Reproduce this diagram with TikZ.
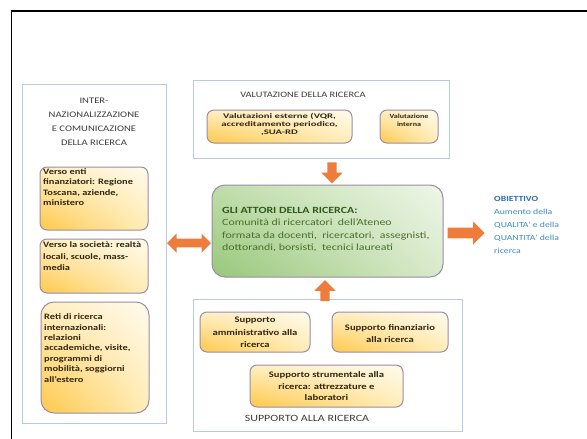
\documentclass[tikz,border=0pt]{standalone}
\usepackage{fontspec}
\setmainfont{Carlito}[FakeStretch=1.25]
\usetikzlibrary{shapes.arrows,shadings}
\definecolor{arrowor}{HTML}{EE7D3B}
\definecolor{boxborder}{HTML}{9C8CA8}
\definecolor{panelborder}{HTML}{B8CBE1}
\definecolor{yUL}{HTML}{FFEFC4}
\definecolor{yUR}{HTML}{FFFAEC}
\definecolor{yLL}{HTML}{FFC84A}
\definecolor{yLR}{HTML}{FFEDB8}
\definecolor{gUL}{HTML}{BFDDAA}
\definecolor{gUR}{HTML}{EEF6E8}
\definecolor{gLL}{HTML}{98C77A}
\definecolor{gLR}{HTML}{D9EACB}
\definecolor{boxtext}{HTML}{33260F}
\definecolor{gtitle}{HTML}{2F5A1C}
\definecolor{gtext}{HTML}{4A6E2C}
\definecolor{otitle}{HTML}{2A6FB0}
\definecolor{otext}{HTML}{3B8BC8}
\definecolor{ptitle}{HTML}{3C3C3C}
\begin{document}
\begin{tikzpicture}[x=1pt,y=-1pt,
  frame/.style={line width=1.6pt, draw=black},
  panel/.style={draw=panelborder, line width=1pt, fill=white, inner sep=0pt},
  ybox/.style={draw=boxborder, line width=1pt, rounded corners=7pt, inner sep=0pt,
    upper left=yUL, upper right=yUR, lower left=yLL, lower right=yLR},
  gbox/.style={draw=boxborder, line width=1pt, rounded corners=13pt, inner sep=0pt,
    upper left=gUL, upper right=gUR, lower left=gLL, lower right=gLR},
  ltext/.style={inner sep=0pt, align=left, anchor=west, text=boxtext,
    font=\fontsize{8.3}{10.4}\selectfont\bfseries},
  ctext/.style={inner sep=0pt, align=center, text=boxtext},
  ptext/.style={inner sep=0pt, align=center, text=ptitle},
  fatarrow/.style={single arrow, fill=arrowor, draw=none, inner sep=4.5pt,
    single arrow head extend=6pt, single arrow head indent=0pt},
  fatdarrow/.style={double arrow, fill=arrowor, draw=none, inner sep=4pt,
    double arrow head extend=5pt, double arrow head indent=0pt}
]
\useasboundingbox (0,0) rectangle (587,439);
\fill[white] (0,0) rectangle (587,439);
\draw[frame] (11.5,440) -- (11.5,11) -- (588,11);

% panels
\node[panel, minimum width=144pt, minimum height=339pt] (pleft) at (94,253.5) {};
\node[panel, minimum width=256pt, minimum height=78pt] (ptop) at (321,119) {};
\node[panel, minimum width=269pt, minimum height=132pt] (pbot) at (327.5,365) {};

% panel titles
\node[ptext, font=\fontsize{8.5}{14}\selectfont] (tleft) at (94,122)
  {INTER-\\NAZIONALIZZAZIONE\\E COMUNICAZIONE\\DELLA RICERCA};
\node[ptext, font=\fontsize{8.3}{10}\selectfont] (ttop) at (303,95) {VALUTAZIONE DELLA RICERCA};
\node[ptext, font=\fontsize{9.6}{11}\selectfont] (tbot) at (307,418) {SUPPORTO ALLA RICERCA};

% left boxes
\node[ybox, minimum width=108pt, minimum height=63pt] (l1) at (94,198.5) {};
\node[ybox, minimum width=108pt, minimum height=54pt] (l2) at (94,266) {};
\node[ybox, rounded corners=13pt, minimum width=108pt, minimum height=111pt] (l3) at (95,357.5) {};
\node[ltext] (l1t) at (43,187) {Verso enti\\finanziatori: Regione\\Toscana, aziende,\\ministero};
\node[ltext, font=\fontsize{8.3}{11.5}\selectfont\bfseries] (l2t) at (43,256.5) {Verso la società: realtà\\locali, scuole, mass-\\media};
\node[ltext] (l3t) at (44,348) {Reti di ricerca\\internazionali:\\relazioni\\accademiche, visite,\\programmi di\\mobilità, soggiorni\\all’estero};

% top boxes
\node[ybox, minimum width=145pt, minimum height=33pt] (t1) at (279.5,126.5) {};
\node[ybox, minimum width=58pt, minimum height=33pt] (t2) at (409,126.5) {};
\node[ctext, font=\fontsize{7}{8.3}\selectfont\bfseries] (t1t) at (279.5,125)
  {\scalebox{1.22}[1]{\begin{tabular}{@{}c@{}}Valutazioni esterne (VQR,\\accreditamento periodico,\\,SUA-RD\end{tabular}}};
\node[ctext, font=\fontsize{6.4}{8.3}\selectfont\bfseries] (t2t) at (409,120.5)
  {Valutazione\\interna};

% bottom boxes
\node[ybox, minimum width=110pt, minimum height=40pt] (b1) at (255,332) {};
\node[ybox, minimum width=116pt, minimum height=40pt] (b2) at (390,332) {};
\node[ybox, minimum width=153pt, minimum height=42pt] (b3) at (326.5,386) {};
\node[ctext, font=\fontsize{8.5}{12.5}\selectfont\bfseries] (b1t) at (255,332.5)
  {Supporto\\amministrativo alla\\ricerca};
\node[ctext, font=\fontsize{8.5}{12.5}\selectfont\bfseries] (b2t) at (390,333.5)
  {Supporto finanziario\\alla ricerca};
\node[ctext, font=\fontsize{8.5}{11.5}\selectfont\bfseries] (b3t) at (326.5,386.5)
  {Supporto strumentale alla\\ricerca: attrezzature e\\laboratori};

% central box
\node[gbox, minimum width=231pt, minimum height=92pt] (g) at (327.5,231) {};
\node[inner sep=0pt, align=left, anchor=west, text=gtext, font=\fontsize{9.5}{12.5}\selectfont] (gt) at (222,229.5)
  {\textcolor{gtitle}{\bfseries GLI ATTORI DELLA RICERCA:}\\Comunità di ricercatori \ dell’Ateneo\\formata da docenti, \ ricercatori, \ assegnisti,\\dottorandi, borsisti, \ tecnici laureati};

% objective
\node[inner sep=0pt, align=left, anchor=west, text=otext, font=\fontsize{7.8}{13}\selectfont] (obj) at (494,225)
  {\textcolor{otitle}{\bfseries OBIETTIVO}\\Aumento della\\QUALITA’ e della\\QUANTITA’ della\\ricerca};

% arrows
\node[fatarrow, rotate=-90, minimum height=21pt, minimum width=21pt] (adown) at (332,170.5) {};
\node[fatarrow, rotate=90, minimum height=21pt, minimum width=21pt] (aup) at (325,293) {};
\node[fatdarrow, minimum height=44pt, minimum width=19pt] (alr) at (189,243) {};
\node[fatarrow, minimum height=37pt, minimum width=23pt, inner sep=5pt] (aright) at (463.5,233) {};
\end{tikzpicture}
\end{document}
